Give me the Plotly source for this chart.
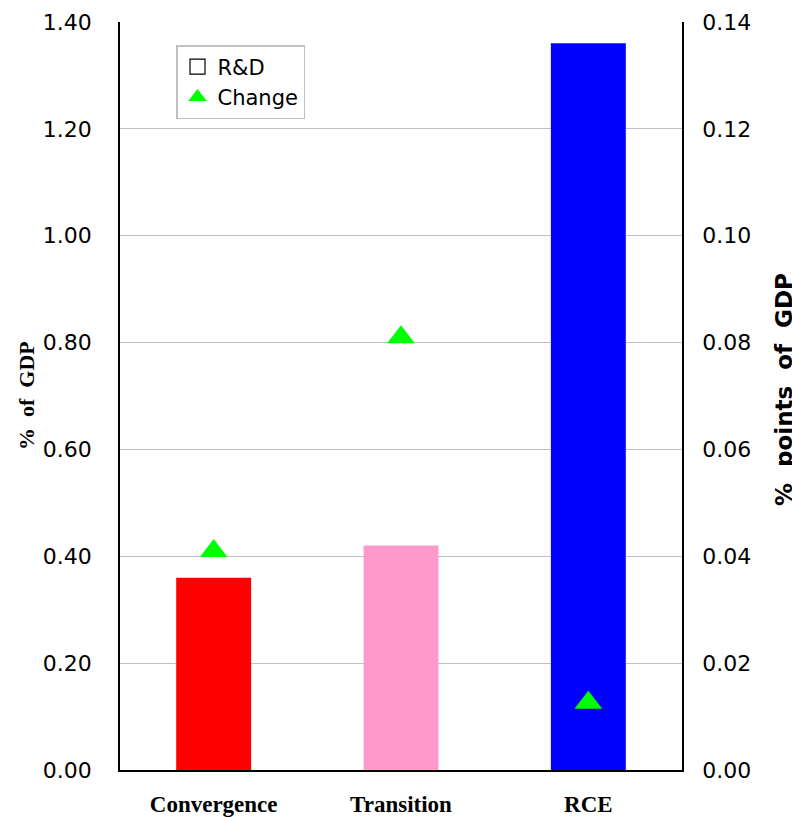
import plotly.graph_objects as go

categories = ["Convergence", "Transition", "RCE"]
rd_values = [0.36, 0.42, 1.36]
change_values = [0.041, 0.081, 0.0126]
bar_colors = ["#FF0000", "#FF99CC", "#0000FF"]
left_ticks = [0.0, 0.2, 0.4, 0.6, 0.8, 1.0, 1.2, 1.4]
right_ticks = [0.0, 0.02, 0.04, 0.06, 0.08, 0.10, 0.12, 0.14]

W, H = 792, 817
ML, MR, MT, MB = 120, 110, 22, 47
pw = W - ML - MR

fig = go.Figure()
fig.add_trace(go.Bar(
    x=categories, y=rd_values, marker=dict(color=bar_colors, line=dict(width=0)),
    width=0.4, showlegend=False, name="R&D", yaxis="y"))
# legend proxy for R&D (hollow square like the original legend)
fig.add_trace(go.Scatter(
    x=[None], y=[None], mode="markers", name="R&D",
    marker=dict(symbol="square-open", color="black", size=15, line=dict(width=1.2)),
    yaxis="y"))
fig.add_trace(go.Scatter(
    x=categories, y=change_values, mode="markers", name="Change",
    marker=dict(symbol="triangle-up", color="#00FF00", size=24, line=dict(width=0)),
    yaxis="y2"))

tick_font = dict(family="DejaVu Sans", size=22, color="black")

fig.update_layout(
    width=W, height=H,
    margin=dict(l=ML, r=MR, t=MT, b=MB, autoexpand=False),
    paper_bgcolor="white", plot_bgcolor="white",
    xaxis=dict(
        type="category", showgrid=False, showline=True, linecolor="black", linewidth=1.5,
        ticks="", tickfont=dict(family="Liberation Serif", size=23, color="black"),
        ticktext=["<b>%s</b>" % c for c in categories], tickvals=categories,
        ticklabelstandoff=13, range=[-0.5, 2.5], mirror=False),
    yaxis=dict(
        range=[0, 1.4], tickvals=left_ticks, tickformat=".2f", showgrid=True,
        gridcolor="#c0c0c0", gridwidth=1.2, showline=True, linecolor="black", linewidth=1.5,
        ticks="", tickfont=tick_font, ticklabelstandoff=22, zeroline=False),
    yaxis2=dict(
        range=[0, 0.14], tickvals=right_ticks, tickformat=".2f", overlaying="y", side="right",
        showgrid=False, showline=True, linecolor="black", linewidth=1.5, ticks="",
        tickfont=tick_font, ticklabelstandoff=14, zeroline=False),
    legend=dict(
        x=(176 - ML) / pw, y=(770 - 45) / 748, xanchor="left", yanchor="top",
        bordercolor="#c0c0c0", borderwidth=1.5, bgcolor="white",
        font=dict(family="DejaVu Sans", size=21, color="black"),
        tracegroupgap=0, itemwidth=30),
    showlegend=True,
    annotations=[
        dict(text="<b>%\u00a0\u00a0of\u00a0\u00a0GDP</b>", xref="paper", yref="paper",
             x=(26 - ML) / pw, y=0.5, xanchor="center", yanchor="middle", textangle=-90,
             showarrow=False, font=dict(family="Liberation Serif", size=22, color="black")),
        dict(text="<b>%\u00a0\u00a0points\u00a0\u00a0of\u00a0\u00a0GDP</b>", xref="paper", yref="paper",
             x=(784 - ML) / pw, y=(770 - 390) / 748, xanchor="center", yanchor="middle",
             textangle=-90,
             showarrow=False, font=dict(family="DejaVu Sans", size=23, color="black")),
    ],
)

fig.write_html("out.html", config={"displayModeBar": False},
               post_script="document.body.style.margin='0';document.body.style.padding='0';")
